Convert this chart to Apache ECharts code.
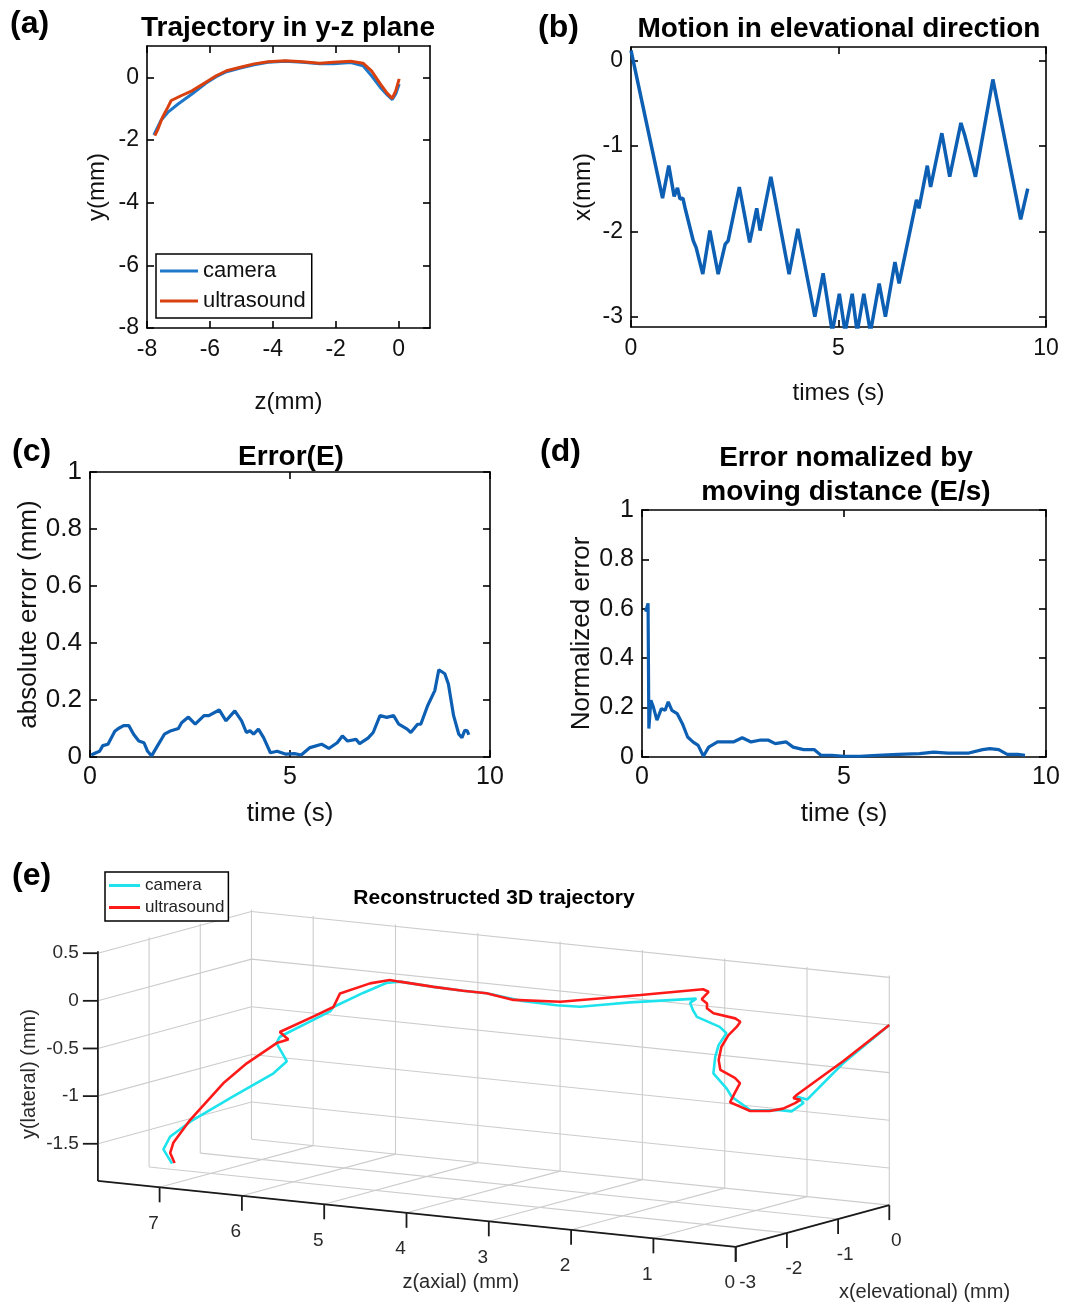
<!DOCTYPE html>
<html><head><meta charset="utf-8">
<script src="https://cdn.jsdelivr.net/npm/echarts@6/dist/echarts.min.js"></script>
<style>html,body{margin:0;padding:0;background:#fff}#c{width:1074px;height:1303px}</style>
</head><body><div id="c"></div><script>
const FONT = "'Liberation Sans', Arial, sans-serif";

// ---------- (a) trajectory in y-z plane ----------
const aCamZ = [-7.78,-7.56,-7.34,-7.01,-6.57,-6.13,-5.80,-5.47,-5.03,-4.59,-4.15,-3.60,-3.05,-2.51,-2.07,-1.52,-1.13,-0.86,-0.58,-0.36,-0.20,-0.09,0.02];
const aCamY = [-1.84,-1.38,-1.12,-0.85,-0.53,-0.19,0.02,0.18,0.30,0.40,0.48,0.51,0.48,0.43,0.43,0.47,0.37,0.05,-0.32,-0.56,-0.71,-0.53,-0.21];
const aUsZ = [-7.75,-7.65,-7.51,-7.34,-7.23,-6.9,-6.57,-6.13,-5.80,-5.47,-5.03,-4.59,-4.15,-3.60,-3.05,-2.51,-2.07,-1.52,-1.13,-0.86,-0.58,-0.36,-0.20,-0.09,0.02];
const aUsY = [-1.86,-1.65,-1.28,-0.96,-0.74,-0.58,-0.43,-0.16,0.05,0.21,0.32,0.43,0.50,0.53,0.50,0.45,0.48,0.51,0.45,0.21,-0.21,-0.51,-0.67,-0.43,-0.05];
const aTicks = [-8,-6,-4,-2,0];

// ---------- (b) motion in elevational direction ----------
const bT = [0,0.76,0.91,1.04,1.12,1.18,1.25,1.30,1.50,1.57,1.73,1.90,2.10,2.27,2.34,2.61,2.86,3.03,3.11,3.37,3.81,4.02,4.43,4.63,4.85,5.02,5.16,5.33,5.45,5.61,5.77,5.98,6.13,6.36,6.46,6.88,6.94,7.14,7.22,7.49,7.68,7.95,8.04,8.08,8.30,8.72,9.39,9.56];
const bX = [0.12,-1.61,-1.23,-1.59,-1.49,-1.62,-1.61,-1.72,-2.11,-2.19,-2.50,-1.99,-2.50,-2.15,-2.11,-1.48,-2.13,-1.73,-1.99,-1.36,-2.50,-1.97,-3.00,-2.49,-3.18,-2.73,-3.18,-2.73,-3.18,-2.73,-3.18,-2.61,-3.0,-2.36,-2.61,-1.63,-1.73,-1.23,-1.48,-0.85,-1.36,-0.73,-0.87,-0.85,-1.36,-0.22,-1.86,-1.50];
const bTTicks = [0,5,10];
const bXTicks = [-3,-2,-1,0];

// ---------- (c) absolute error ----------
const cT = [0.03,0.15,0.24,0.32,0.45,0.62,0.71,0.84,0.97,1.09,1.22,1.35,1.44,1.54,1.69,1.86,1.99,2.21,2.29,2.46,2.63,2.85,2.97,3.23,3.40,3.62,3.79,3.91,4.0,4.09,4.21,4.34,4.51,4.68,4.90,5.11,5.28,5.50,5.79,5.97,6.18,6.31,6.44,6.65,6.74,6.95,7.08,7.25,7.42,7.59,7.72,7.93,8.02,8.19,8.27,8.44,8.62,8.72,8.87,8.96,9.09,9.22,9.30,9.37,9.43,9.47];
const cE = [0.007,0.015,0.02,0.04,0.045,0.09,0.10,0.11,0.11,0.08,0.056,0.05,0.02,0.004,0.04,0.08,0.09,0.10,0.12,0.14,0.115,0.145,0.145,0.165,0.127,0.162,0.127,0.086,0.092,0.08,0.098,0.068,0.015,0.02,0.01,0.012,0.007,0.033,0.045,0.03,0.05,0.074,0.056,0.062,0.047,0.066,0.086,0.145,0.139,0.145,0.115,0.098,0.086,0.115,0.115,0.18,0.233,0.306,0.292,0.256,0.145,0.08,0.068,0.094,0.092,0.078];
const cTTicks = [0,5,10];
const cETicks = [0,0.2,0.4,0.6,0.8,1];

// ---------- (d) normalized error ----------
const dT = [0.09,0.15,0.17,0.22,0.28,0.37,0.48,0.57,0.65,0.74,0.87,1.0,1.13,1.26,1.39,1.52,1.65,1.87,2.09,2.26,2.48,2.70,2.91,3.13,3.30,3.57,3.74,4.0,4.26,4.43,4.70,5.0,5.39,5.83,6.35,6.87,7.22,7.57,8.09,8.43,8.61,8.83,9.04,9.30,9.48];
const dE = [0.588,0.622,0.115,0.23,0.203,0.149,0.196,0.189,0.223,0.189,0.176,0.135,0.081,0.061,0.047,0.003,0.04,0.061,0.061,0.061,0.078,0.061,0.068,0.068,0.054,0.061,0.04,0.03,0.03,0.007,0.007,0.003,0.003,0.007,0.011,0.014,0.02,0.016,0.016,0.03,0.034,0.03,0.011,0.011,0.007];
const dTTicks = [0,5,10];
const dETicks = [0,0.2,0.4,0.6,0.8,1];

// ---------- (e) reconstructed 3D trajectory (z axial, x elevational, y lateral) ----------
const eCamZ = [0,0.064,0.19,0.19,0.17,0.13,0.146,0.26,0.36,0.42,0.52,0.56,0.58,0.61,0.63,0.72,0.83,0.99,1.10,1.78,2.02,2.14,2.30,2.62,3.09,3.32,3.67,4.17,4.37,4.59,4.95,4.99,5.54,5.58,5.64,5.74,6.50,7.25,7.62,7.70,7.72];
const eCamX = [0,-0.8,-1.3,-1.5,-1.4,-1.7,-1.9,-2.3,-2.5,-2.5,-2.6,-2.5,-2.4,-2.2,-2.3,-2.6,-2.5,-2.3,-2.0,-2.2,-2.4,-2.6,-2.8,-3.0,-2.9,-2.99,-3.0,-2.86,-2.8,-2.9,-2.9,-2.9,-3.0,-3.0,-2.7,-2.8,-2.4,-2.0,-1.8,-1.8,-1.6];
const eCamY = [0,-0.29,-0.61,-0.55,-0.63,-0.67,-0.63,-0.58,-0.42,-0.34,-0.175,-0.02,0.09,0.18,0.26,0.40,0.445,0.48,0.47,0.40,0.38,0.38,0.41,0.46,0.48,0.50,0.51,0.50,0.46,0.35,0.17,0.12,-0.18,-0.25,-0.49,-0.61,-0.99,-1.37,-1.59,-1.73,-1.91];
const eUsZ = [0,0.064,0.19,0.17,0.21,0.15,0.17,0.21,0.26,0.32,0.38,0.51,0.57,0.57,0.56,0.58,0.61,0.65,0.67,0.69,0.69,0.83,0.91,0.97,1.035,1.20,1.33,1.71,2.26,2.70,3.09,3.32,3.67,4.17,4.34,4.53,4.87,4.95,5.19,5.54,5.56,5.64,6.19,6.60,7.25,7.58,7.68,7.72];
const eUsX = [0,-0.8,-1.5,-1.6,-1.4,-1.6,-1.8,-2.0,-2.3,-2.4,-2.5,-2.2,-2.0,-2.1,-2.4,-2.4,-2.3,-2.1,-1.9,-1.8,-1.9,-2.1,-2.1,-2.0,-2.0,-1.6,-1.5,-2.11,-2.79,-3.0,-2.90,-2.99,-3.0,-2.86,-2.78,-2.86,-2.9,-2.9,-2.9,-3.0,-2.8,-2.9,-2.6,-2.4,-2.0,-1.8,-1.7,-1.55];
const eUsY = [0,-0.27,-0.53,-0.55,-0.60,-0.60,-0.63,-0.63,-0.59,-0.535,-0.48,-0.44,-0.37,-0.30,-0.17,-0.07,0.05,0.14,0.20,0.235,0.285,0.355,0.40,0.43,0.47,0.475,0.475,0.47,0.45,0.46,0.48,0.50,0.51,0.50,0.49,0.45,0.32,0.17,0.05,-0.13,-0.24,-0.27,-0.575,-0.85,-1.35,-1.65,-1.78,-1.91];
const eZRange = [0, 7.75];
const eXRange = [-3, 0];
const eYRange = [-1.89, 0.52];
const eZTicks = [0,1,2,3,4,5,6,7];
const eXTicks = [-3,-2,-1,0];
const eYTicks = [-1.5,-1,-0.5,0,0.5];

// ---------- 3D view (orthographic projection, px per unit) ----------
const eView = {zu:-82.3, zv:8.5, xu:51.2, xv:13.9, yv:95.3};
const eOrigin = [889.3, 1025];
function proj(z, x, y) { return [eView.zu*z + eView.xu*x, eView.zv*z + eView.xv*x + eView.yv*y]; }
const corners = [];
eZRange.forEach(z => eXRange.forEach(x => eYRange.forEach(y => corners.push(proj(z,x,y)))));
const uMin = Math.min(...corners.map(c=>c[0])), uMax = Math.max(...corners.map(c=>c[0]));
const vMin = Math.min(...corners.map(c=>c[1])), vMax = Math.max(...corners.map(c=>c[1]));

const grids = [
  {left:147, top:46, width:283, height:282},
  {left:631, top:47, width:415, height:280},
  {left:90, top:472, width:400, height:285},
  {left:642, top:510, width:404, height:247},
  {left:eOrigin[0]+uMin, top:eOrigin[1]-vMax, width:uMax-uMin, height:vMax-vMin}
];

function mkAxes(gi, dim, min, max, ticks, o) {
  const isX = dim === 'x';
  const base = {type:'value', gridIndex:gi, min:min, max:max, splitLine:{show:false},
    axisLine:{show:true, onZero:false, lineStyle:{color:'#000', width:1.6}},
    axisTick:{show:true, inside:true, length:7, customValues:ticks, lineStyle:{color:'#000', width:1.6}}};
  const main = Object.assign({}, base, {position: isX ? 'bottom' : 'left',
    axisLabel:{show:true, customValues:ticks, margin:o.margin, fontSize:o.fs, fontFamily:FONT, color:'#111'},
    name:o.name, nameLocation:'middle', nameGap:o.gap, nameRotate: isX ? 0 : 90,
    nameTextStyle:{fontSize:o.nfs, fontFamily:FONT, color:'#111'}});
  const mirror = Object.assign({}, base, {position: isX ? 'top' : 'right',
    axisLabel:{show:false, customValues:ticks}});
  return [main, mirror];
}

const xAxes = [].concat(
  mkAxes(0,'x',-8,1,aTicks,{margin:10,fs:23,name:'z(mm)',gap:62,nfs:24}),
  mkAxes(1,'x',0,10,bTTicks,{margin:10,fs:23,name:'times (s)',gap:54,nfs:24}),
  mkAxes(2,'x',0,10,cTTicks,{margin:8,fs:25,name:'time (s)',gap:44,nfs:26}),
  mkAxes(3,'x',0,10,dTTicks,{margin:8,fs:25,name:'time (s)',gap:44,nfs:26}),
  [{type:'value', gridIndex:4, min:uMin, max:uMax, show:false}]
);
const yAxes = [].concat(
  mkAxes(0,'y',-8,1,aTicks,{margin:8,fs:23,name:'y(mm)',gap:38,nfs:24}),
  mkAxes(1,'y',-3.12,0.16,bXTicks,{margin:8,fs:23,name:'x(mm)',gap:36,nfs:24}),
  mkAxes(2,'y',0,1,cETicks,{margin:8,fs:26,name:'absolute error (mm)',gap:48,nfs:26}),
  mkAxes(3,'y',0,1,dETicks,{margin:8,fs:25,name:'Normalized error',gap:47,nfs:26}),
  [{type:'value', gridIndex:4, min:vMin, max:vMax, show:false}]
);

const zip = (a, b) => a.map((v, i) => [v, b[i]]);
const proj3 = (Z, X, Y) => Z.map((z, i) => proj(z, X[i], Y[i]));

function frameRender(params, api) {
  const ch = [];
  const P = (z, x, y) => api.coord(proj(z, x, y));
  const L = (a, b, stroke, w) => ch.push({type:'line', shape:{x1:a[0], y1:a[1], x2:b[0], y2:b[1]}, style:{stroke:stroke, lineWidth:w}});
  const T = (p, dx, dy, text, align, fs) => ch.push({type:'text', style:{x:p[0]+dx, y:p[1]+dy, text:text, fill:'#2a2a2a', fontSize:fs, fontFamily:FONT, align:align, verticalAlign:'middle'}});
  const [z0, z1] = eZRange, [x0, x1] = eXRange, [y0, y1] = eYRange;
  const G = '#cccccc';
  // back wall (x = x1)
  eZTicks.forEach(z => L(P(z,x1,y0), P(z,x1,y1), G, 1.1));
  eYTicks.forEach(y => L(P(z0,x1,y), P(z1,x1,y), G, 1.1));
  // side wall (z = z1)
  eXTicks.forEach(x => L(P(z1,x,y0), P(z1,x,y1), G, 1.1));
  eYTicks.forEach(y => L(P(z1,x0,y), P(z1,x1,y), G, 1.1));
  // floor (y = y0)
  eZTicks.forEach(z => L(P(z,x0,y0), P(z,x1,y0), G, 1.1));
  eXTicks.forEach(x => L(P(z0,x,y0), P(z1,x,y0), G, 1.1));
  // axes
  const K = '#1a1a1a';
  L(P(z1,x0,y0), P(z1,x0,y1), K, 1.8);
  L(P(z1,x0,y0), P(z0,x0,y0), K, 1.8);
  L(P(z0,x0,y0), P(z0,x1,y0), K, 1.8);
  eYTicks.forEach(y => { const p = P(z1,x0,y); L(p, [p[0]-15, p[1]], K, 1.8); T(p, -19, 0, String(y), 'right', 19); });
  eZTicks.forEach(z => { const p = P(z,x0,y0); L(p, [p[0], p[1]+15], K, 1.8); T(p, -6, 36, String(z), 'center', 19); });
  eXTicks.forEach(x => { const p = P(z0,x,y0); L(p, [p[0], p[1]+15], K, 1.8); T(p, x === -3 ? 12 : 7, 36, String(x), 'center', 19); });
  // axis names
  const zm = P((z0+z1)/2, x0, y0);
  ch.push({type:'text', style:{x:zm[0]+44, y:zm[1]+69, text:'z(axial) (mm)', fill:'#2a2a2a', fontSize:20, fontFamily:FONT, align:'center', verticalAlign:'middle'}});
  const xm = P(z0, (x0+x1)/2, y0);
  ch.push({type:'text', style:{x:xm[0]+112, y:xm[1]+67, text:'x(elevational) (mm)', fill:'#2a2a2a', fontSize:20, fontFamily:FONT, align:'center', verticalAlign:'middle'}});
  const ym = P(z1, x0, (y0+y1)/2);
  ch.push({type:'text', x:ym[0]-68, y:ym[1]+8, rotation:Math.PI/2, style:{x:0, y:0, text:'y(lateral) (mm)', fill:'#2a2a2a', fontSize:20, fontFamily:FONT, align:'center', verticalAlign:'middle'}});
  return {type:'group', children:ch};
}

const lineS = (name, xi, data, color, w) => ({type:'line', name:name, xAxisIndex:xi, yAxisIndex:xi, data:data,
  showSymbol:false, symbol:'none', lineStyle:{color:color, width:w}, itemStyle:{color:color}, z:3});

const txt = (x, y, text, font, align) => ({type:'text', x:x, y:y, style:{text:text, font:font, fill:'#000', align:align || 'center', verticalAlign:'middle'}});
const TB = "bold 28px 'Liberation Sans', Arial, sans-serif";
const LB = "bold 32px 'Liberation Sans', Arial, sans-serif";

const option = {
  animation:false,
  backgroundColor:'#fff',
  grid:grids,
  xAxis:xAxes,
  yAxis:yAxes,
  legend:[
    {left:156, top:254, orient:'vertical', icon:'rect', itemWidth:38, itemHeight:3, itemGap:8,
     padding:[6,6,6,4], borderColor:'#000', borderWidth:1.5, backgroundColor:'#fff', selectedMode:false,
     textStyle:{fontSize:22, fontFamily:FONT, color:'#111'}, data:['camera','ultrasound']},
    {left:105, top:872, orient:'vertical', icon:'rect', itemWidth:31, itemHeight:3, itemGap:5,
     padding:[5,4,5,4], borderColor:'#000', borderWidth:1.5, backgroundColor:'#fff', selectedMode:false,
     textStyle:{fontSize:17, fontFamily:FONT, color:'#222'}, data:['camera (3D)','ultrasound (3D)'],
     formatter: n => n.replace(' (3D)', '')}
  ],
  graphic:[
    txt(10, 24, '(a)', LB, 'left'), txt(538, 28, '(b)', LB, 'left'), txt(12, 452, '(c)', LB, 'left'),
    txt(540, 452, '(d)', LB, 'left'), txt(12, 876, '(e)', LB, 'left'),
    txt(288, 28, 'Trajectory in y-z plane', TB), txt(839, 29, 'Motion in elevational direction', TB),
    txt(291, 457, 'Error(E)', TB), txt(846, 458, 'Error nomalized by', TB), txt(846, 492, 'moving distance (E/s)', TB),
    txt(494, 898, 'Reconstructed 3D trajectory', "bold 21px 'Liberation Sans', Arial, sans-serif")
  ],
  series:[
    lineS('camera', 0, zip(aCamZ, aCamY), '#1f77c9', 3),
    lineS('ultrasound', 0, zip(aUsZ, aUsY), '#d9400f', 3),
    lineS('x(t)', 2, zip(bT, bX), '#0c5fb3', 3.5),
    lineS('E', 4, zip(cT, cE), '#0c5fb3', 3.2),
    lineS('E/s', 6, zip(dT, dE), '#0c5fb3', 3.2),
    {type:'custom', name:'frame', xAxisIndex:8, yAxisIndex:8, data:[[0,0]], renderItem:frameRender, silent:true, clip:false, z:1},
    lineS('camera (3D)', 8, proj3(eCamZ, eCamX, eCamY), '#1fe3ec', 2.6),
    lineS('ultrasound (3D)', 8, proj3(eUsZ, eUsX, eUsY), '#ff1a1a', 2.6)
  ]
};
const chart = echarts.init(document.getElementById('c'), null, {renderer:'canvas'});
chart.setOption(option);
</script></body></html>
